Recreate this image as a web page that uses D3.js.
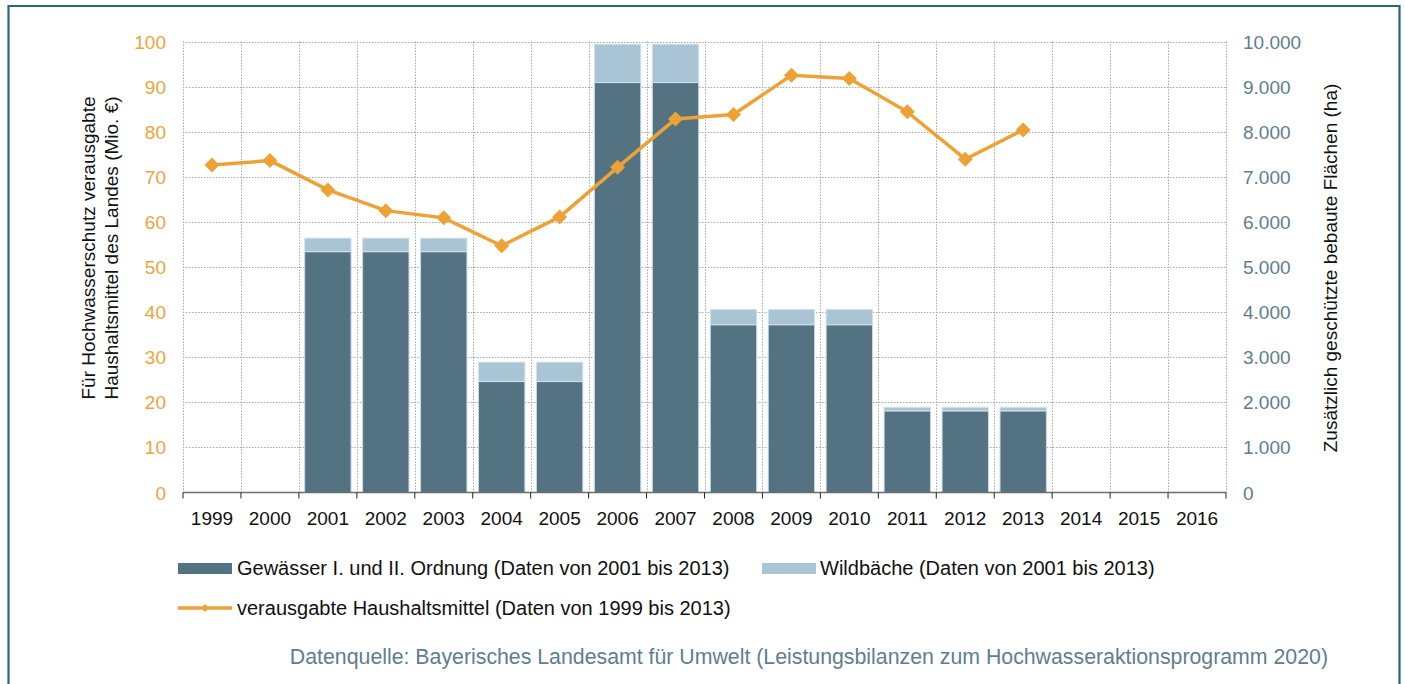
<!DOCTYPE html>
<html>
<head>
<meta charset="utf-8">
<script src="https://cdn.jsdelivr.net/npm/d3@7"></script>
<style>
  body { margin: 0; background: #fff; }
  svg { display: block; font-family: "Liberation Sans", Arial, sans-serif; }
</style>
</head>
<body>
<svg id="chart" width="1405" height="684"></svg>
<script>
const years = ["1999","2000","2001","2002","2003","2004","2005","2006","2007","2008","2009","2010","2011","2012","2013","2014","2015","2016"];
// ha, right axis
const gewaesser = [null,null,5340,5340,5340,2460,2460,9090,9090,3720,3720,3720,1810,1810,1810,null,null,null];
const wildbaeche = [null,null,300,300,300,430,430,850,850,340,340,340,80,80,80,null,null,null];
// Mio. €, left axis
const haushalt = [72.6,73.6,67.1,62.5,60.9,54.7,61.1,72.1,82.8,83.8,92.5,91.8,84.4,73.9,80.4,null,null,null];
const leftTicks = [0,10,20,30,40,50,60,70,80,90,100];
const rightTicks = [0,1000,2000,3000,4000,5000,6000,7000,8000,9000,10000];

const svg = d3.select("#chart");
const m = {left: 183, right: 1226, top: 41.5, bottom: 492.5};

const x = d3.scaleBand().domain(years).range([m.left, m.right]).paddingInner(0.2).paddingOuter(0.1);
const yL = d3.scaleLinear().domain([0, 100]).range([m.bottom, m.top]);
const yR = d3.scaleLinear().domain([0, 10000]).range([m.bottom, m.top]);
const step = x.step();

// frame
svg.append("path")
  .attr("d", "M8.5,684 V6 H1399.5 V684")
  .attr("fill", "none").attr("stroke", "#2b6478").attr("stroke-width", 2.2);

// grid
const grid = svg.append("g").attr("stroke", "#a8a8a8").attr("stroke-dasharray", "1.5,1.5").attr("stroke-width", 1);
grid.selectAll(".h").data(leftTicks.slice(1)).join("line")
  .attr("x1", m.left).attr("x2", m.right)
  .attr("y1", d => Math.round(yL(d)) + 0.5).attr("y2", d => Math.round(yL(d)) + 0.5);
grid.selectAll(".v").data(d3.range(years.length + 1)).join("line")
  .attr("x1", i => Math.round(m.left + i * step) + 0.5).attr("x2", i => Math.round(m.left + i * step) + 0.5)
  .attr("y1", m.top).attr("y2", m.bottom);

// bars
const stacked = years.map((yr, i) => ({yr, a: gewaesser[i], b: wildbaeche[i]})).filter(d => d.a != null);
const bars = svg.append("g");
bars.selectAll(".a").data(stacked).join("rect")
  .attr("x", d => x(d.yr)).attr("width", x.bandwidth())
  .attr("y", d => yR(d.a)).attr("height", d => yR(0) - yR(d.a))
  .attr("fill", "#537282").attr("stroke", "#c9d8e2").attr("stroke-width", 1);
bars.selectAll(".b").data(stacked).join("rect")
  .attr("x", d => x(d.yr)).attr("width", x.bandwidth())
  .attr("y", d => yR(d.a + d.b)).attr("height", d => yR(d.a) - yR(d.a + d.b))
  .attr("fill", "#a9c4d4").attr("stroke", "#d4e1ea").attr("stroke-width", 1);

// bottom axis
const xAxis = svg.append("g").attr("transform", `translate(0,${m.bottom})`);
xAxis.append("line").attr("x1", m.left).attr("x2", m.right).attr("stroke", "#6e6e6e").attr("stroke-width", 1.5);
xAxis.selectAll(".tk").data(d3.range(years.length + 1)).join("line")
  .attr("x1", i => m.left + i * step).attr("x2", i => m.left + i * step)
  .attr("y1", 0).attr("y2", 6).attr("stroke", "#222").attr("stroke-width", 1);
xAxis.selectAll("text").data(years).join("text")
  .attr("x", d => x(d) + x.bandwidth() / 2).attr("y", 32)
  .attr("text-anchor", "middle").attr("font-size", 19).attr("fill", "#111").text(d => d);

// left axis labels
svg.append("g").selectAll("text").data(leftTicks).join("text")
  .attr("x", 166).attr("y", d => yL(d) + 7)
  .attr("text-anchor", "end").attr("font-size", 19).attr("fill", "#f0a33a").text(d => d);

// right axis labels
const fmtDE = d3.formatLocale({decimal: ",", thousands: ".", grouping: [3], currency: ["", "€"]}).format(",");
svg.append("g").selectAll("text").data(rightTicks).join("text")
  .attr("x", 1243).attr("y", d => yR(d) + 7)
  .attr("text-anchor", "start").attr("font-size", 19).attr("fill", "#5e7e8e").text(d => fmtDE(d));

// line
const pts = years.map((yr, i) => ({yr, v: haushalt[i]})).filter(d => d.v != null);
const cx = d => x(d.yr) + x.bandwidth() / 2;
svg.append("path").datum(pts)
  .attr("d", d3.line().x(cx).y(d => yL(d.v)))
  .attr("fill", "none").attr("stroke", "#eea236").attr("stroke-width", 3.5);
svg.append("g").selectAll("path").data(pts).join("path")
  .attr("transform", d => `translate(${cx(d)},${yL(d.v)})`)
  .attr("d", "M0,-7.5 L7.5,0 L0,7.5 L-7.5,0 Z")
  .attr("fill", "#eea236");

// axis titles
svg.append("text")
  .attr("transform", "translate(0,248) rotate(-90)")
  .attr("text-anchor", "middle").attr("font-size", 19).attr("fill", "#111")
  .selectAll("tspan").data(["Für Hochwasserschutz verausgabte", "Haushaltsmittel des Landes (Mio. €)"]).join("tspan")
  .attr("x", 0).attr("y", (d, i) => 95 + i * 23).text(d => d);
svg.append("text")
  .attr("transform", "translate(1337,268) rotate(-90)")
  .attr("text-anchor", "middle").attr("font-size", 19).attr("fill", "#111")
  .text("Zusätzlich geschützte bebaute Flächen (ha)");

// legend
const lg = svg.append("g").attr("font-size", 20).attr("fill", "#111");
lg.append("rect").attr("x", 178).attr("y", 563).attr("width", 54).attr("height", 11).attr("fill", "#537282");
lg.append("text").attr("x", 237).attr("y", 575).text("Gewässer I. und II. Ordnung (Daten von 2001 bis 2013)");
lg.append("rect").attr("x", 762).attr("y", 563).attr("width", 54).attr("height", 11).attr("fill", "#a9c4d4");
lg.append("text").attr("x", 820).attr("y", 575).text("Wildbäche (Daten von 2001 bis 2013)");
lg.append("line").attr("x1", 178).attr("x2", 232).attr("y1", 608).attr("y2", 608).attr("stroke", "#eea236").attr("stroke-width", 3.5);
lg.append("path").attr("transform", "translate(205,608)").attr("d", "M0,-4 L4,0 L0,4 L-4,0 Z").attr("fill", "#eea236");
lg.append("text").attr("x", 237).attr("y", 615).text("verausgabte Haushaltsmittel (Daten von 1999 bis 2013)");

svg.append("text").attr("x", 1328).attr("y", 664).attr("text-anchor", "end")
  .attr("font-size", 21.3).attr("fill", "#5e7e8e")
  .text("Datenquelle: Bayerisches Landesamt für Umwelt (Leistungsbilanzen zum Hochwasseraktionsprogramm 2020)");
</script>
</body>
</html>
